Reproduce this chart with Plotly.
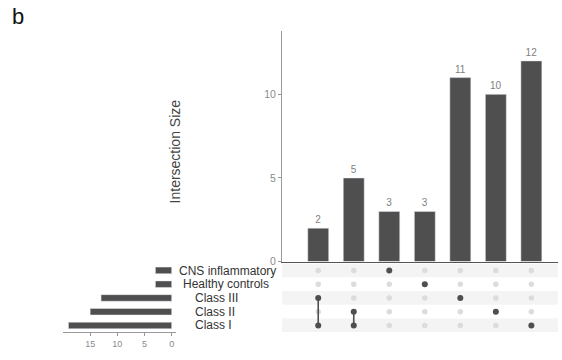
import plotly.graph_objects as go

# ---- data ----
sets = ["Class I", "Class II", "Class III", "Healthy controls", "CNS inflammatory"]  # bottom -> top
set_sizes = [19, 15, 13, 3, 3]
intersections = [
    ["Class I", "Class III"],
    ["Class I", "Class II"],
    ["CNS inflammatory"],
    ["Healthy controls"],
    ["Class III"],
    ["Class II"],
    ["Class I"],
]
inter_sizes = [2, 5, 3, 3, 11, 10, 12]

W, H = 562, 360
def px(x): return x / W
def py(y): return 1 - y / H

BAR = "#4f4f4f"
FONT = "Liberation Sans, Arial, sans-serif"

fig = go.Figure()
cols = list(range(len(inter_sizes)))

# main intersection bars
fig.add_trace(go.Bar(
    x=cols, y=inter_sizes, marker_color=BAR, width=0.59,
    text=[str(v) for v in inter_sizes], textposition="outside",
    textfont=dict(size=10, color="#808080", family=FONT),
    cliponaxis=False, xaxis="x", yaxis="y", showlegend=False, hoverinfo="skip",
))

# matrix background dots
bx, by = [], []
for c in cols:
    for r in range(len(sets)):
        bx.append(c); by.append(r)
fig.add_trace(go.Scatter(x=bx, y=by, mode="markers",
                         marker=dict(size=5.5, color="#dcdcdc"),
                         xaxis="x2", yaxis="y2", showlegend=False, hoverinfo="skip"))
# active dots and connecting lines
for c, members in enumerate(intersections):
    rows = sorted(sets.index(m) for m in members)
    fig.add_trace(go.Scatter(x=[c] * len(rows), y=rows, mode="lines+markers",
                             line=dict(color=BAR, width=1.6),
                             marker=dict(size=6, color=BAR),
                             xaxis="x2", yaxis="y2", showlegend=False, hoverinfo="skip"))

# set size bars
fig.add_trace(go.Bar(
    x=set_sizes, y=list(range(len(sets))), orientation="h", width=0.48,
    marker_color=BAR, xaxis="x3", yaxis="y3", showlegend=False, hoverinfo="skip",
))

# row bands
shapes = []
for r in (0, 2, 4):
    shapes.append(dict(type="rect", xref="x2 domain", yref="y2", x0=0, x1=1,
                       y0=r - 0.5, y1=r + 0.5, fillcolor="#f4f4f4",
                       line=dict(width=0), layer="below"))

# set labels
label_x = {"CNS inflammatory": 177, "Healthy controls": 181,
           "Class III": 193, "Class II": 193, "Class I": 193}
annotations = []
for r, s in enumerate(sets):
    annotations.append(dict(x=px(label_x[s]), xref="paper", y=r, yref="y3",
                            text=s, showarrow=False, xanchor="left", yanchor="middle",
                            yshift=-1 if s == "CNS inflammatory" else 0,
                            font=dict(size=12, color="#333333", family=FONT)))
annotations.append(dict(x=px(175), y=py(154), xref="paper", yref="paper",
                        text="Intersection Size", textangle=-90, showarrow=False,
                        xanchor="center", yanchor="middle",
                        font=dict(size=14, color="#444444", family=FONT)))
annotations.append(dict(x=px(10), y=py(17), xref="paper", yref="paper",
                        text="b", showarrow=False, xanchor="left", yanchor="middle",
                        font=dict(size=22, color="#111111", family=FONT)))

xr = [-1.02, 6.75]
fig.update_layout(
    width=W, height=H, margin=dict(l=0, r=0, t=0, b=0),
    paper_bgcolor="white", plot_bgcolor="rgba(0,0,0,0)",
    font=dict(family=FONT),
    shapes=shapes, annotations=annotations,
    xaxis=dict(domain=[px(282), px(558)], range=xr, showticklabels=False, ticks="",
               showgrid=False, zeroline=False, showline=True, linecolor="#555555",
               linewidth=1, anchor="y"),
    yaxis=dict(domain=[py(266), py(32)], range=[0, 13.76], tickvals=[0, 5, 10],
               ticks="outside", ticklen=3, tickcolor="#999999",
               tickfont=dict(size=10.5, color="#8a8a8a"), showgrid=False,
               zeroline=False, showline=True, linecolor="#999999", linewidth=1,
               anchor="x"),
    xaxis2=dict(domain=[px(282), px(558)], range=xr, showticklabels=False, ticks="",
                showgrid=False, zeroline=False, showline=False, anchor="y2"),
    yaxis2=dict(domain=[py(338), py(268)], range=[-0.5, 4.5], showticklabels=False,
                ticks="", showgrid=False, zeroline=False, showline=False, anchor="x2"),
    xaxis3=dict(domain=[px(63), px(175.7)], range=[20, -0.74], tickvals=[0, 5, 10, 15],
                ticks="outside", ticklen=3, tickcolor="#999999",
                tickfont=dict(size=9, color="#8a8a8a"), showgrid=False, zeroline=False,
                showline=True, linecolor="#999999", linewidth=1, anchor="y3"),
    yaxis3=dict(domain=[py(338), py(268)], range=[-0.5, 4.5], showticklabels=False,
                ticks="", showgrid=False, zeroline=False, showline=False, anchor="x3"),
)

fig.write_html("out.html")
